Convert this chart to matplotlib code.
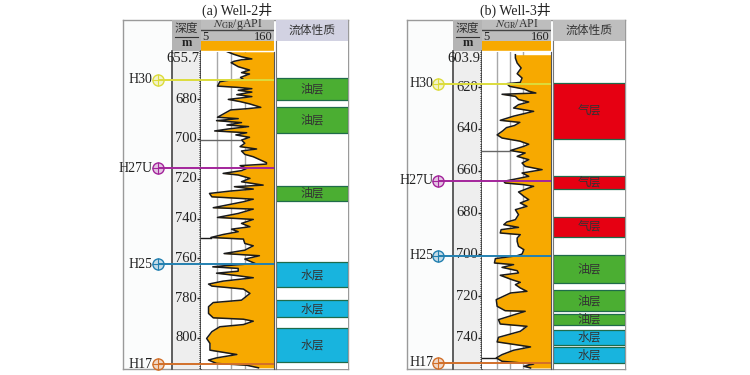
import matplotlib
matplotlib.use("Agg")
import matplotlib.pyplot as plt

W, H = 750, 375
SERIF = ['Liberation Serif', 'Noto Sans CJK SC']
CJK = ['Noto Sans CJK SC', 'DejaVu Sans']

ORANGE = '#F7A900'
FLUID_COLORS = {'油层': '#4BAE32', '水层': '#18B4DE', '气层': '#E60012'}
HORIZON_COLORS = {'H30': '#DCDC3C', 'H27U': '#A3259B', 'H25': '#2380B0', 'H17': '#D2702A'}

# Well-2
depth_a = [655.7, 657, 658.2, 659.3, 659.7, 660.5, 661.2, 663.2, 664.9, 666.2, 666.9, 668.6, 669.6, 669.9, 670.8,
           673, 673.6, 674.3, 675.1, 676, 677.3, 678.3, 679.7, 680.8, 682, 683.7, 684.4, 685, 688.7, 689.4, 690.4,
           691.4, 692.6, 693.4, 694.6, 695.6, 696.5, 697.6, 698.8, 700.2, 701.8, 703.5, 704.7, 705.7, 707.4, 708.6,
           711.6, 712.3, 713.1, 714.5, 715.6, 717, 717.8, 719.5, 721.2, 722.9, 723.7, 724.9, 725.9, 727.1, 728.8,
           730, 731.3, 734.3, 735, 737.2, 739.2, 740.2, 742.2, 743.9, 745.1, 746.4, 747.8, 749.3, 750.1, 752.3,
           753.5, 755.7, 757.4, 758.5, 760.2, 762.4, 763.6, 764.1, 764.9, 766.3, 767.3, 768.6, 769.6, 771.3, 772.8,
           773.8, 775.3, 777.5, 780.9, 782.1, 784.2, 787.6, 789.8, 790.5, 791.5, 793.2, 794.3, 796.8, 800.2, 802.7,
           806.1, 808.3, 810, 811.1, 812.8, 813.7, 815]
gr_a = [61, 75, 91, 113, 91, 75, 69, 84, 108, 91, 108, 89, 95, 67, 45,
        40, 81, 113, 84, 113, 81, 113, 63, 88, 109, 132, 102, 68, 40, 84, 38,
        91, 60, 106, 63, 34, 102, 79, 108, 91, 98, 88, 123, 91, 98, 116,
        144, 144, 88, 102, 91, 52, 84, 109, 91, 137, 76, 116, 67, 23, 28,
        116, 95, 31, 116, 84, 40, 116, 91, 109, 70, 84, 52, 26, 95, 98,
        116, 98, 54, 129, 98, 120, 52, 30, 84, 84, 38, 84, 116, 52, 21,
        28, 95, 109, 91, 31, 21, 21, 31, 95, 116, 95, 45, 28, 17, 24,
        24, 81, 38, 21, 38, 102, 127]
layers_top_a = [669, 683.7, 723.4, 761.9, 780.9, 794.7]
layers_bot_a = [680, 696.8, 730.8, 774.2, 789.6, 812.3]
layers_name_a = ['油层', '油层', '油层', '水层', '水层', '水层']
horizons_a = [('H30', 669.9), ('H27U', 714.5), ('H25', 762.9), ('H17', 813.2)]
ticks_a = [680, 700, 720, 740, 760, 780, 800]
stubs_a = [(700, 88, '#666666'), (749.6, 26, '#1A1A1A')]

# Well-3
depth_b = [604, 605.6, 608, 610.4, 613.1, 615.2, 617.3, 617.9, 619.2, 620.5, 621.5, 622.4, 623, 624, 625.5, 626.7,
           628, 629.6, 631.2, 633.5, 635.5, 636.5, 638, 639, 640.5, 642.5, 644, 645.5, 647, 648, 650, 651.2, 652.8,
           654.4, 656, 657.6, 659.2, 660.8, 662.4, 664.8, 665.6, 666.4, 667.2, 668, 669.9, 672, 673.6, 675.2, 676.8,
           678.4, 680.8, 683.2, 684.3, 685.6, 686.9, 688, 689.6, 690.4, 692, 693.6, 696, 697.6, 699.7, 700.5, 701.9,
           704, 704.8, 706.1, 707.7, 708.8, 709.9, 712, 713.3, 714.4, 716, 717.6, 718.4, 721.6, 724.8, 726.9, 727.2,
           731.2, 733.3, 734.4, 736.8, 739.7, 741.9, 743.2, 744.3, 745.9, 748, 749.6, 751.2, 752.5, 753.6, 754.4]
gr_b = [80, 80, 84, 93, 84, 95, 91, 61, 67, 100, 110, 126, 50, 80, 87, 110,
        87, 76, 121, 76, 46, 90, 78, 60, 52, 39, 50, 90, 110, 99, 69, 102, 84,
        110, 95, 102, 140, 95, 110, 54, 57, 99, 121, 110, 87, 99, 110, 91, 106,
        80, 87, 80, 61, 54, 87, 48, 46, 91, 84, 84, 87, 99, 95, 84, 35,
        33, 76, 50, 84, 87, 46, 72, 91, 80, 91, 106, 69, 37, 39, 57, 102,
        42, 46, 106, 91, 42, 39, 80, 114, 76, 50, 37, 50, 121, 99, 114]
layers_top_b = [617.6, 662.4, 681.8, 700.2, 717.1, 728.5, 736.3, 744.5]
layers_bot_b = [644.5, 668.6, 691.7, 713.6, 727.2, 733.6, 743.2, 752]
layers_name_b = ['气层', '气层', '气层', '油层', '油层', '油层', '水层', '水层']
horizons_b = [('H30', 617.9), ('H27U', 664.5), ('H25', 700.5), ('H17', 752)]
ticks_b = [620, 640, 660, 680, 700, 720, 740]
stubs_b = [(650, 69, '#666666'), (749.6, 37, '#1A1A1A')]

fig = plt.figure(figsize=(W / 100, H / 100), dpi=100)


def add_box(x0, y0, x1, y1, **kw):
    ax = fig.add_axes([x0 / W, 1 - y1 / H, (x1 - x0) / W, (y1 - y0) / H], **kw)
    ax.set_xticks([])
    ax.set_yticks([])
    return ax


def header(x0, y0, x1, y1, color):
    ax = add_box(x0, y0, x1, y1, facecolor=color)
    for s in ax.spines.values():
        s.set_visible(False)
    ax.set_xlim(x0, x1)
    ax.set_ylim(y1, y0)
    return ax


def draw_well(title, title_x, xs, top_depth, bot_depth, top_label, depth, gr, tops, bots, names, horizons, ticks,
              stubs, unit, fluid_head):
    left, dcol, track, tright, fluid, right = xs
    top, head_bot, bottom = 20, 51, 369

    # outer frame with the pale left column
    frame = add_box(left, top, right, bottom, facecolor='#FBFCFC')
    frame.set_xlim(left, right)
    frame.set_ylim(bot_depth, top_depth)
    for s in frame.spines.values():
        s.set_color('#9A9A9A')
        s.set_linewidth(1)

    fig.text(title_x / W, 1 - 10 / H, title, family=SERIF, fontsize=10, ha='center', va='center', color='#222222')

    # depth column
    hd = header(dcol, top, track, head_bot, '#B4B4B4')
    hd.text((dcol + track) / 2, 28.5, '深度', family=CJK, fontsize=8.5, ha='center', va='center', color='#333333')
    hd.plot([dcol + 3, track - 3], [37, 37], color='#333333', lw=0.8)
    hd.text((dcol + track) / 2, 43.5, 'm', family=SERIF, fontsize=9, weight='bold', ha='center', va='center',
            color='#222222')

    ad = add_box(dcol, head_bot, track, bottom, facecolor='#EEEEEE')
    ad.set_ylim(bot_depth, top_depth)
    ad.set_xlim(0, 1)
    for k, s in ad.spines.items():
        s.set_visible(k in ('left', 'right'))
        s.set_color('#444444')
        s.set_linewidth(1.2)
    ad.yaxis.tick_right()
    ad.set_yticks(ticks)
    ad.set_yticklabels([])
    ad.set_yticks([d for d in range(int(top_depth) + 1, int(bot_depth) + 1)], minor=True)
    ad.tick_params(axis='y', which='major', direction='in', length=3, width=1, color='#222222')
    ad.tick_params(axis='y', which='minor', direction='in', length=1.5, width=0.7, color='#222222')
    for t in ticks:
        ad.text(0.86, t, str(t), family=SERIF, fontsize=10.5, ha='right', va='center', color='#222222')
    ad.text(0.95, top_depth + 0.5, top_label, family=SERIF, fontsize=10.5, ha='right', va='top', color='#222222',
            clip_on=False)

    # GR header rows
    hg = header(track, top, tright, 41, '#BDBDBD')
    hg.text((track + tright) / 2, 24.5, r'$\mathit{N}_{\mathrm{GR}}$/' + unit, family='Liberation Serif',
            math_fontfamily='stix', fontsize=8.5, ha='center', va='center', color='#333333')
    hg.plot([track, tright], [30.5, 30.5], color='#444444', lw=1)
    hg.text(track + 1, 36.5, '5', family='Liberation Serif', fontsize=9, ha='left', va='center', color='#222222')
    hg.text(tright - 1, 36.5, '160', family='Liberation Serif', fontsize=9, ha='right', va='center', color='#222222')
    hb = header(track, 41, tright, 52, ORANGE)
    hb.plot([track, tright], [50.5, 50.5], color='white', lw=1)

    # GR track
    ag = add_box(track, 52, tright, bottom, facecolor='white')
    ag.set_xlim(5, 160)
    ag.set_ylim(bot_depth, top_depth)
    for k, s in ag.spines.items():
        s.set_visible(k == 'right')
        s.set_color('#555555')
    for g in (38, 68, 98):
        ag.axvline(g, color='#A8A8A8', lw=1, zorder=1)
    ag.fill_betweenx(depth, gr, 160, color=ORANGE, lw=0, zorder=2)
    ag.plot(gr, depth, color='#1A1A1A', lw=1.1, zorder=3)
    for d, g, c in stubs:
        ag.plot([5, g], [d, d], color=c, lw=1, zorder=3)

    # fluid column
    hf = header(fluid, top, right, 41, fluid_head)
    hf.text((fluid + right) / 2, 30.5, '流体性质', family=CJK, fontsize=8.5, ha='center', va='center',
            color='#333333')
    af = add_box(fluid, 41, right, bottom, facecolor='white')
    af.set_xlim(0, 1)
    af.set_ylim(bot_depth, top_depth - (52 - 41) * (bot_depth - top_depth) / (bottom - 52))
    for k, s in af.spines.items():
        s.set_visible(k == 'left')
        s.set_color('#777777')
    for t, b, n in zip(tops, bots, names):
        af.barh((t + b) / 2, 1, height=b - t, left=0, color=FLUID_COLORS[n], edgecolor='#1F6B4A', lw=0.9)
        af.text(0.5, (t + b) / 2, n, family=CJK, fontsize=8.5, ha='center', va='center', color='#333333')

    # horizons run across on top of everything
    ov = add_box(left, 52, tright, bottom)
    ov.patch.set_alpha(0)
    ov.set_xlim(left, tright)
    ov.set_ylim(bot_depth, top_depth)
    for s in ov.spines.values():
        s.set_visible(False)
    sym_x = dcol - 14.5
    for name, d in horizons:
        c = HORIZON_COLORS[name]
        ov.plot([sym_x, tright], [d, d], color=c, lw=1.4, zorder=4, solid_capstyle='butt')
        ov.plot([sym_x], [d], 'o', ms=8, mfc=c, mec='none', alpha=0.25, zorder=5, clip_on=False)
        ov.plot([sym_x], [d], 'o', ms=8, mfc='none', mec=c, mew=1, zorder=5, clip_on=False)
        ov.plot([sym_x], [d], '+', ms=8, mec=c, mew=0.8, zorder=5, clip_on=False)
        ov.text(sym_x - 5, d, name, family='Liberation Serif', fontsize=10, ha='right', va='center',
                color='#222222', zorder=6, clip_on=False)


draw_well('(a) Well-2井', 237, (123, 172, 201, 274, 276, 348), 655.8, 815.6, '655.7', depth_a, gr_a,
          layers_top_a, layers_bot_a, layers_name_a, horizons_a, ticks_a, stubs_a, 'gAPI', '#D2D2E2')
draw_well('(b) Well-3井', 515, (407, 453, 482, 551, 553, 625), 602.7, 754.9, '603.9', depth_b, gr_b,
          layers_top_b, layers_bot_b, layers_name_b, horizons_b, ticks_b, stubs_b, 'API', '#BEBEBE')

fig.savefig('out.png', dpi=100)
